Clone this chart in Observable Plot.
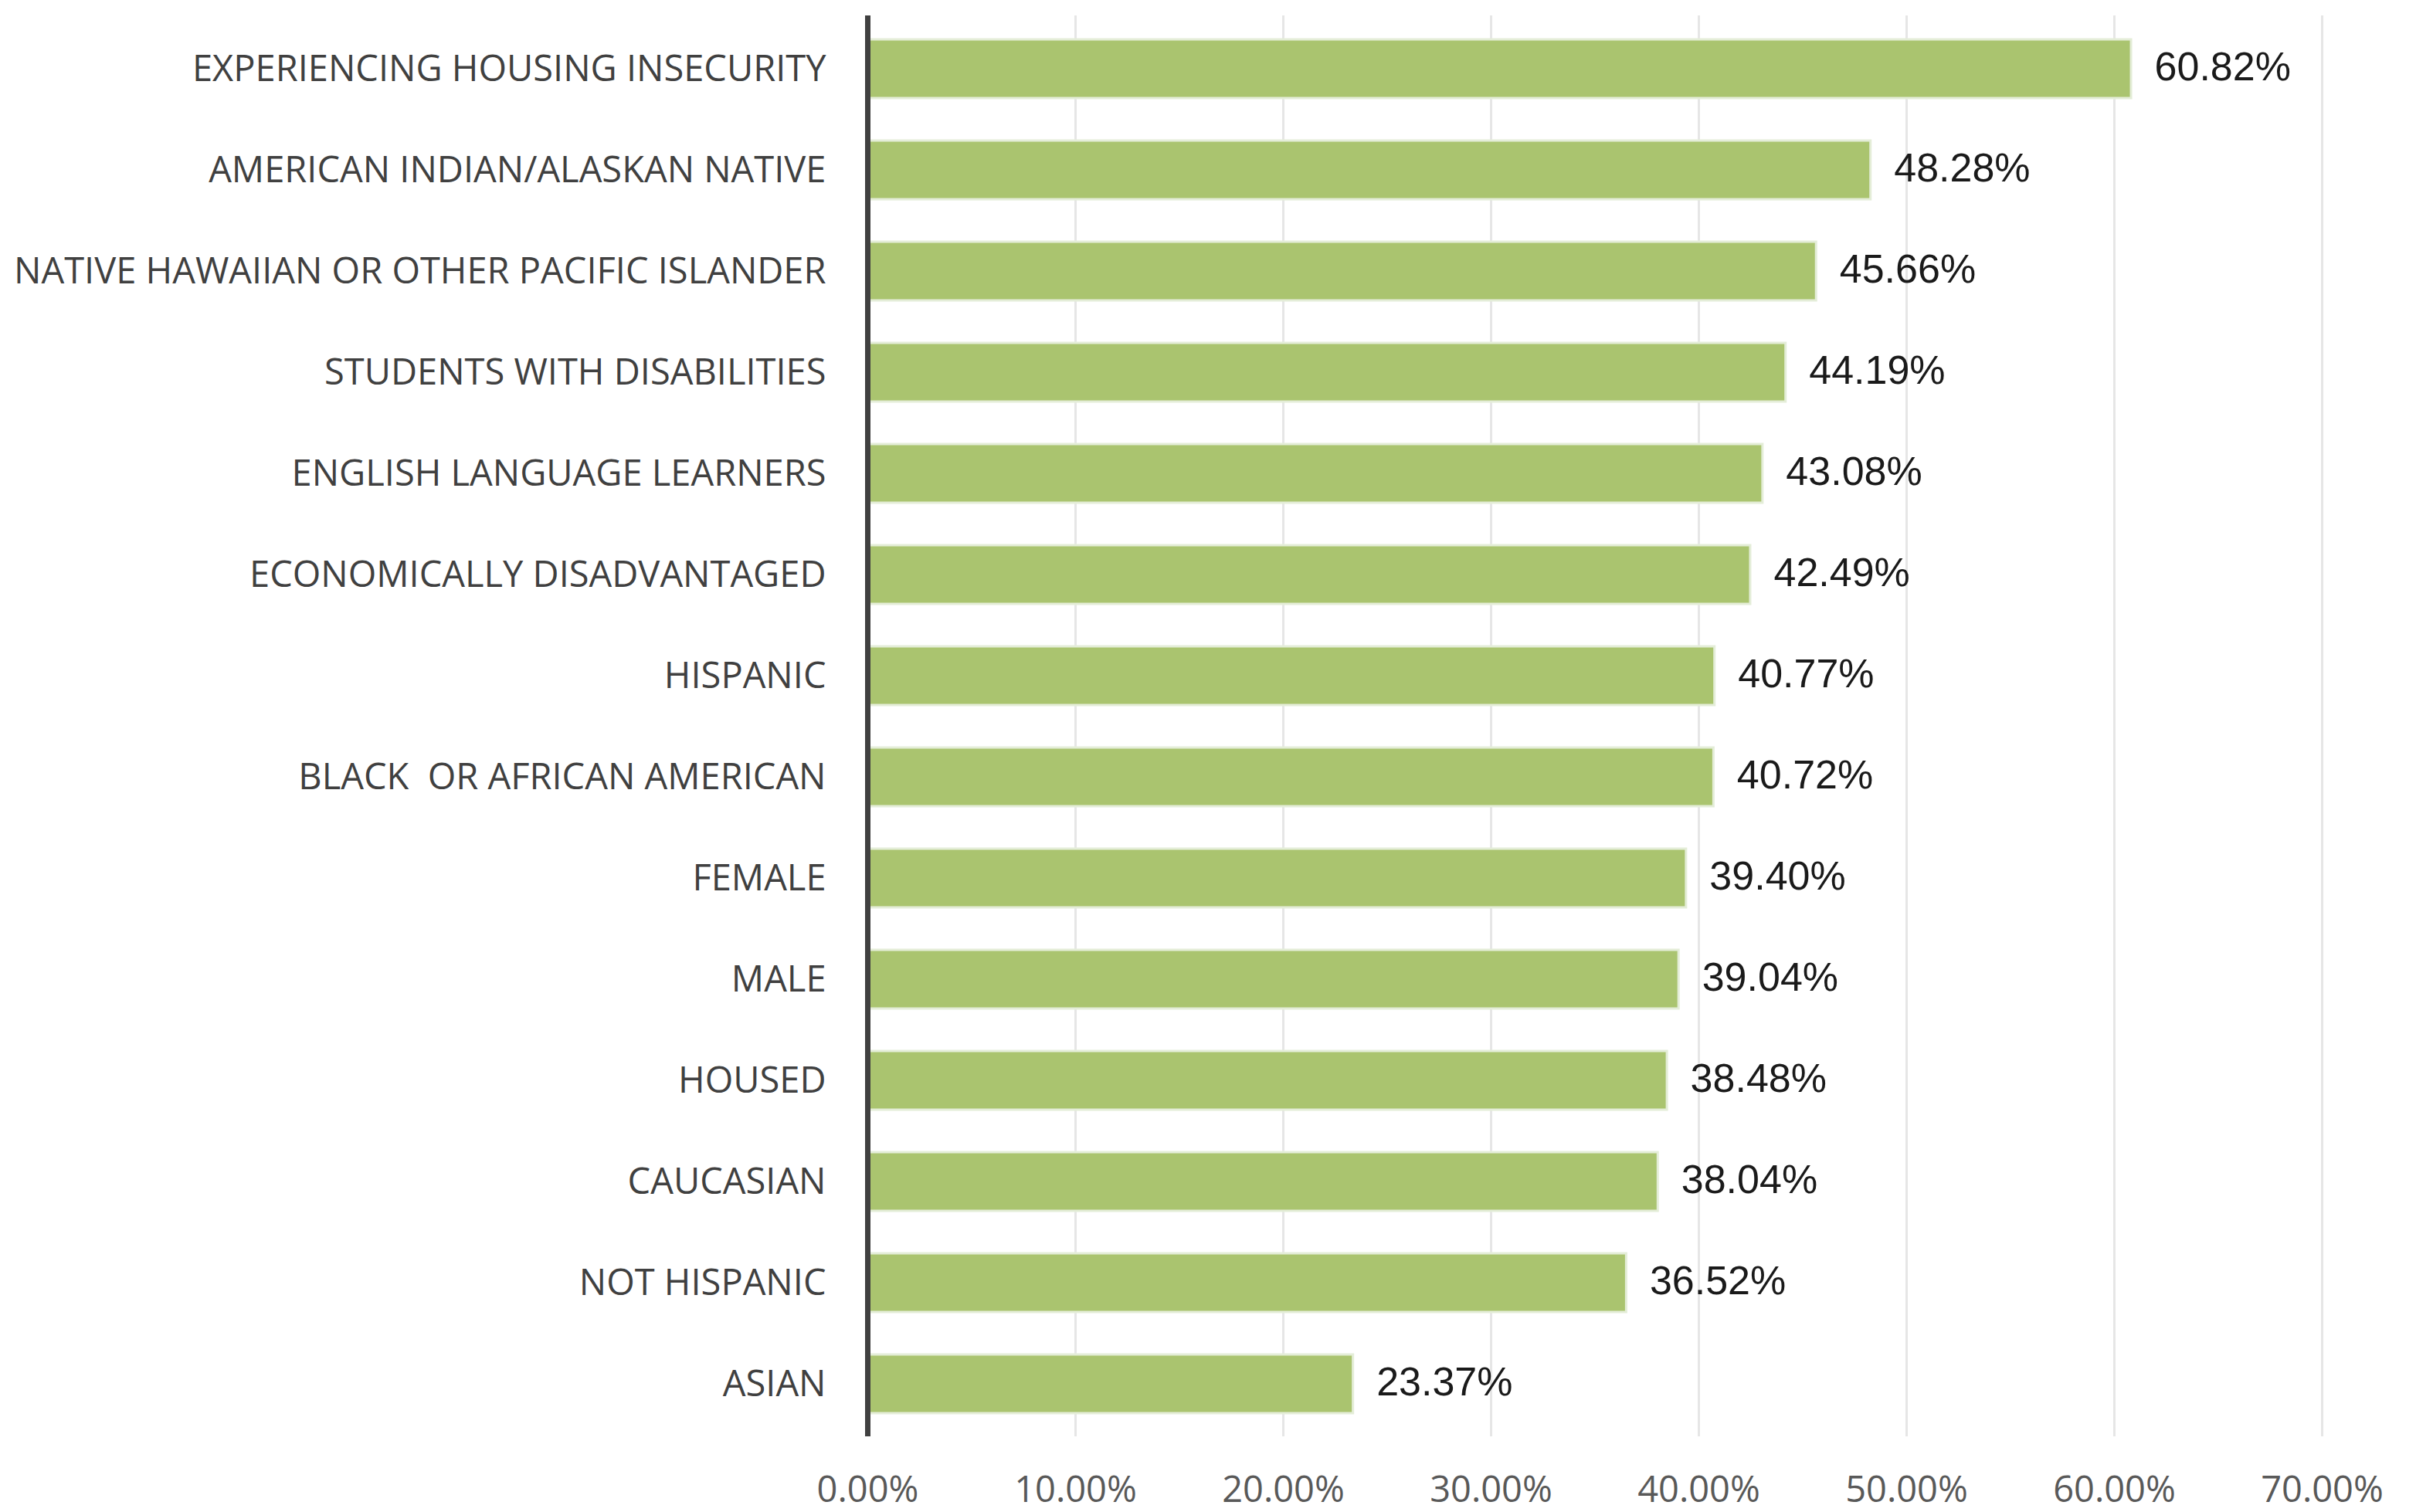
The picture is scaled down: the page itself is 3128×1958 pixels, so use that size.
<!DOCTYPE html>
<html>
<head>
<meta charset="utf-8">
<script src="https://cdn.jsdelivr.net/npm/d3@7"></script>
<script src="https://cdn.jsdelivr.net/npm/@observablehq/plot@0.6"></script>
<style>
  html, body { margin: 0; padding: 0; background: #ffffff; }
  #chart svg text { white-space: pre; }
</style>
</head>
<body>
<div id="chart"></div>
<script>
const categories = [
  "EXPERIENCING HOUSING INSECURITY",
  "AMERICAN INDIAN/ALASKAN NATIVE",
  "NATIVE HAWAIIAN OR OTHER PACIFIC ISLANDER",
  "STUDENTS WITH DISABILITIES",
  "ENGLISH LANGUAGE LEARNERS",
  "ECONOMICALLY DISADVANTAGED",
  "HISPANIC",
  "BLACK  OR AFRICAN AMERICAN",
  "FEMALE",
  "MALE",
  "HOUSED",
  "CAUCASIAN",
  "NOT HISPANIC",
  "ASIAN"
];
const values = [60.82, 48.28, 45.66, 44.19, 43.08, 42.49, 40.77, 40.72, 39.40, 39.04, 38.48, 38.04, 36.52, 23.37];
const xTicks = [0, 0.1, 0.2, 0.3, 0.4, 0.5, 0.6, 0.7];

const data = categories.map((c, i) => ({category: c, value: values[i] / 100}));
const pct = d3.format(".2%");

const chart = Plot.plot({
  width: 3128,
  height: 1958,
  marginLeft: 1123,
  marginRight: 122,
  marginTop: 20,
  marginBottom: 98,
  style: {background: "#ffffff"},
  x: {domain: [0, 0.7], ticks: xTicks, tickFormat: pct},
  y: {domain: categories, paddingInner: 0.42, paddingOuter: 0.21},
  marks: [
    Plot.gridX(xTicks.slice(1), {stroke: "#e6e6e6", strokeOpacity: 1, strokeWidth: 3}),
    Plot.barX(data, {
      x: "value", y: "category",
      fill: "#aac46f", stroke: "#e4edd8", strokeWidth: 3
    }),
    Plot.ruleX([0], {stroke: "#404040", strokeWidth: 7}),
    Plot.text(data, {
      x: "value", y: "category", text: d => pct(d.value),
      textAnchor: "start", dx: 30, dy: -2,
      fontSize: 52, fill: "#1a1a1a",
      fontFamily: "'Liberation Sans', Arial, sans-serif"
    }),
    Plot.axisX({
      ticks: xTicks, tickFormat: pct, tickSize: 0, tickPadding: 51,
      fontSize: 47, fill: "#595959", label: null,
      fontFamily: "'Open Sans', sans-serif"
    }),
    Plot.axisY({
      tickSize: 0, tickPadding: 54, fontSize: 47, fill: "#404040", label: null,
      fontFamily: "'Open Sans', sans-serif"
    })
  ]
});
document.getElementById("chart").appendChild(chart);
</script>
</body>
</html>
